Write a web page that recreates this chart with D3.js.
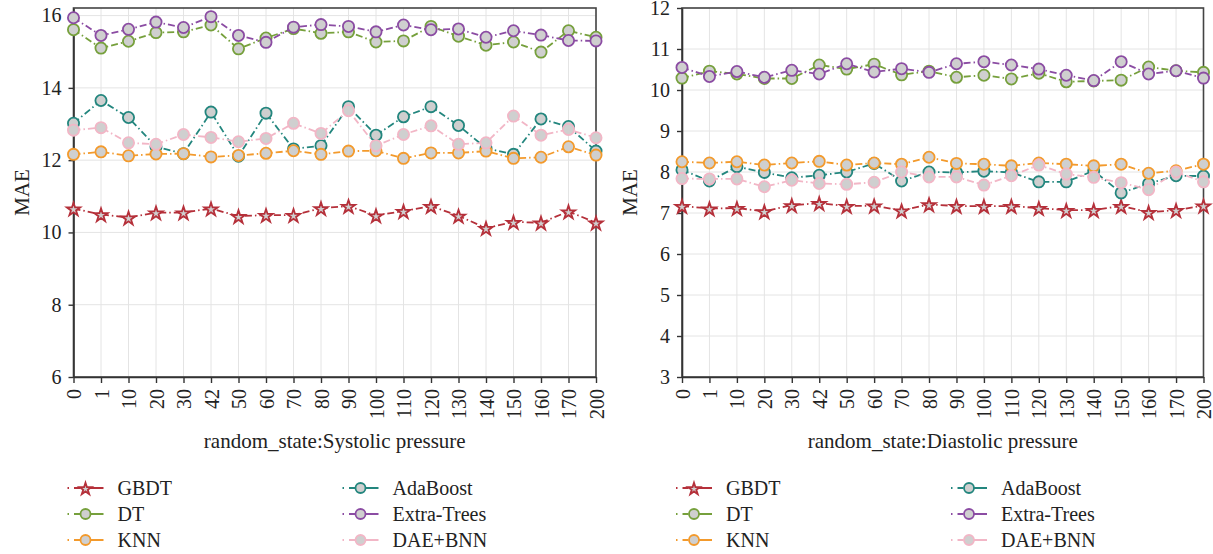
<!DOCTYPE html>
<html>
<head>
<meta charset="utf-8">
<script src="https://cdn.jsdelivr.net/npm/d3@7"></script>
<style>
body { margin: 0; background: #fff; }
svg text { font-family: "Liberation Serif", "DejaVu Serif", serif; fill: #222; }
</style>
</head>
<body>
<svg id="chart" width="1213" height="554"></svg>
<script>
'use strict';

// random_state values on the x axis
const states = ["0","1","10","20","30","42","50","60","70","80","90","100","110","120","130","140","150","160","170","200"];

// systolic pressure MAE
const sysGBDT     = [10.66,10.50,10.41,10.55,10.55,10.66,10.45,10.48,10.48,10.67,10.73,10.47,10.59,10.73,10.46,10.12,10.29,10.27,10.58,10.27];
const sysAdaBoost = [13.02,13.65,13.18,12.37,12.18,13.33,12.11,13.30,12.31,12.40,13.48,12.69,13.20,13.48,12.96,12.33,12.16,13.14,12.93,12.25];
const sysDT       = [15.61,15.10,15.29,15.53,15.55,15.74,15.08,15.38,15.64,15.51,15.55,15.27,15.30,15.70,15.43,15.18,15.27,14.99,15.58,15.40];
const sysExtra    = [15.94,15.45,15.62,15.82,15.67,15.97,15.45,15.26,15.68,15.75,15.70,15.55,15.74,15.61,15.63,15.40,15.58,15.46,15.31,15.30];
const sysKNN      = [12.16,12.23,12.12,12.17,12.18,12.09,12.13,12.19,12.26,12.16,12.25,12.26,12.05,12.20,12.20,12.25,12.05,12.08,12.37,12.14];
const sysDAE      = [12.83,12.90,12.48,12.44,12.71,12.63,12.51,12.60,13.02,12.74,13.37,12.40,12.71,12.95,12.44,12.48,13.22,12.69,12.85,12.62];

// diastolic pressure MAE
const diaGBDT     = [7.17,7.11,7.12,7.04,7.19,7.24,7.17,7.18,7.06,7.21,7.17,7.17,7.17,7.12,7.07,7.07,7.17,7.02,7.07,7.18];
const diaAdaBoost = [8.05,7.78,8.13,7.99,7.86,7.92,8.00,8.21,7.78,8.00,7.99,8.02,7.99,7.76,7.76,8.03,7.49,7.72,7.91,7.90];
const diaDT       = [10.29,10.46,10.39,10.28,10.28,10.61,10.51,10.63,10.37,10.46,10.31,10.36,10.27,10.41,10.20,10.22,10.24,10.56,10.47,10.43];
const diaExtra    = [10.55,10.33,10.45,10.31,10.48,10.39,10.64,10.44,10.52,10.43,10.64,10.69,10.61,10.51,10.36,10.23,10.69,10.39,10.47,10.29];
const diaKNN      = [8.25,8.22,8.25,8.17,8.22,8.26,8.17,8.22,8.19,8.36,8.21,8.19,8.15,8.22,8.19,8.15,8.19,7.97,8.03,8.19];
const diaDAE      = [7.84,7.83,7.83,7.64,7.80,7.72,7.70,7.75,8.00,7.88,7.88,7.68,7.91,8.17,7.95,7.87,7.74,7.57,8.00,7.76];

const sysTicks = [6, 8, 10, 12, 14, 16];
const diaTicks = [3, 4, 5, 6, 7, 8, 9, 10, 11, 12];

const models = ["GBDT", "AdaBoost", "DT", "Extra-Trees", "KNN", "DAE+BNN"];
const colors = ["#b5303a", "#23867e", "#76a03c", "#8b4ca3", "#f39a2c", "#f2b6c6"];

const markerFill = "#cfcfcf";
const dash = "7,3,1.5,3";

const svg = d3.select("#chart");

function marker(g, name, color, x, y, small) {
	if (name === "GBDT") {
		g.append("path")
		 .attr("d", d3.symbol(d3.symbolStar, small ? 45 : 55)())
		 .attr("transform", `translate(${x},${y + 1})`)
		 .attr("fill", markerFill)
		 .attr("stroke", color)
		 .attr("stroke-width", 1.8);
	} else {
		g.append("circle")
		 .attr("cx", x).attr("cy", y)
		 .attr("r", small ? 5 : 5.6)
		 .attr("fill", markerFill)
		 .attr("stroke", color)
		 .attr("stroke-width", 1.8);
	}
}

function panel(p) {
	const top = 8, bottom = 377;
	const g = svg.append("g");

	const x = d3.scalePoint().domain(states).range([p.x0, p.x1]);
	const y = d3.scaleLinear().domain(p.domain).range([bottom, top]);

	// grid
	g.append("g").selectAll("line.v").data(states).join("line")
	 .attr("x1", d => x(d)).attr("x2", d => x(d))
	 .attr("y1", top).attr("y2", bottom)
	 .attr("stroke", "#e4e4e4").attr("stroke-width", 1);
	g.append("g").selectAll("line.h").data(p.ticks).join("line")
	 .attr("x1", p.x0).attr("x2", p.x1)
	 .attr("y1", d => y(d)).attr("y2", d => y(d))
	 .attr("stroke", "#e4e4e4").attr("stroke-width", 1);

	g.append("rect")
	 .attr("x", p.x0).attr("y", top)
	 .attr("width", p.x1 - p.x0).attr("height", bottom - top)
	 .attr("fill", "none").attr("stroke", "#444").attr("stroke-width", 1.6);

	const yAxis = g.append("g")
		.attr("transform", `translate(${p.x0},0)`)
		.call(d3.axisLeft(y).tickValues(p.ticks).tickSize(5).tickSizeOuter(0).tickPadding(7));
	yAxis.selectAll("text").style("font-size", "20px").attr("fill", "#222");
	yAxis.select(".domain").attr("stroke", "#333").attr("stroke-width", 1.6);
	yAxis.selectAll(".tick line").attr("stroke", "#333").attr("stroke-width", 1.4);

	const xAxis = g.append("g")
		.attr("transform", `translate(0,${bottom})`)
		.call(d3.axisBottom(x).tickSize(6).tickSizeOuter(0));
	xAxis.select(".domain").attr("stroke", "#333").attr("stroke-width", 1.6);
	xAxis.selectAll(".tick line").attr("stroke", "#333").attr("stroke-width", 1.4);
	xAxis.selectAll("text")
		 .style("font-size", "20px")
		 .attr("fill", "#222")
		 .attr("text-anchor", "end")
		 .attr("transform", "translate(0,12) rotate(-90)")
		 .attr("x", 0).attr("y", 0).attr("dy", "0.35em");

	g.append("text")
	 .attr("x", (p.x0 + p.x1) / 2).attr("y", 448)
	 .attr("text-anchor", "middle")
	 .style("font-size", "21px")
	 .text(p.title);

	g.append("text")
	 .attr("transform", `translate(${p.x0 - 52},${(top + bottom) / 2}) rotate(-90)`)
	 .attr("text-anchor", "middle")
	 .attr("dy", "0.35em")
	 .style("font-size", "21px")
	 .text("MAE");

	const line = d3.line().x((d, i) => x(states[i])).y(d => y(d));

	p.series.forEach((vals, k) => {
		const s = g.append("g");
		s.append("path")
		 .attr("d", line(vals))
		 .attr("fill", "none")
		 .attr("stroke", colors[k])
		 .attr("stroke-width", 1.8)
		 .attr("stroke-dasharray", dash);
		vals.forEach((v, i) => marker(s, models[k], colors[k], x(states[i]), y(v), false));
	});

	// legend, two columns
	const lg = g.append("g");
	models.forEach((m, k) => {
		const lx = p.x0 - 6 + (k % 2) * 275;
		const ly = 488 + Math.floor(k / 2) * 26;
		lg.append("line")
		  .attr("x1", lx).attr("x2", lx + 36)
		  .attr("y1", ly).attr("y2", ly)
		  .attr("stroke", colors[k]).attr("stroke-width", 1.8)
		  .attr("stroke-dasharray", "1.5,5,6,1,30");
		marker(lg, m, colors[k], lx + 18, ly, true);
		lg.append("text")
		  .attr("x", lx + 50).attr("y", ly)
		  .attr("dy", "0.35em")
		  .style("font-size", "20px")
		  .text(m);
	});
}

panel({
	x0: 73.5, x1: 596,
	domain: [6, 16.21],
	ticks: sysTicks,
	title: "random_state:Systolic pressure",
	series: [sysGBDT, sysAdaBoost, sysDT, sysExtra, sysKNN, sysDAE]
});

panel({
	x0: 682, x1: 1203.5,
	domain: [3, 12],
	ticks: diaTicks,
	title: "random_state:Diastolic pressure",
	series: [diaGBDT, diaAdaBoost, diaDT, diaExtra, diaKNN, diaDAE]
});
</script>
</body>
</html>
